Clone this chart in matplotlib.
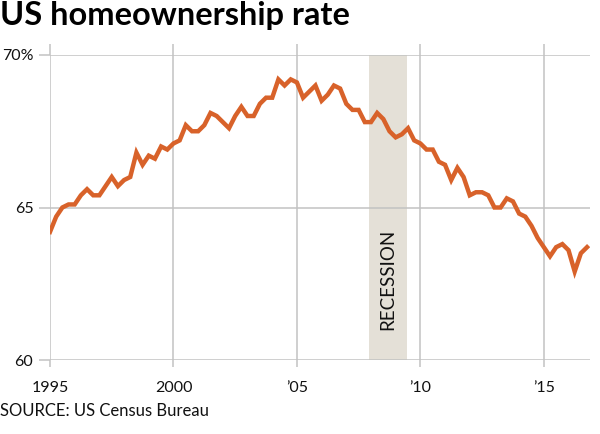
import numpy as np
import matplotlib.pyplot as plt

# Quarterly homeownership rate (%), 1995 Q1 - 2016 Q4
years = list(range(1995, 2017))
rate = [
    64.2, 64.7, 65.0, 65.1,   # 1995
    65.1, 65.4, 65.6, 65.4,   # 1996
    65.4, 65.7, 66.0, 65.7,   # 1997
    65.9, 66.0, 66.8, 66.4,   # 1998
    66.7, 66.6, 67.0, 66.9,   # 1999
    67.1, 67.2, 67.7, 67.5,   # 2000
    67.5, 67.7, 68.1, 68.0,   # 2001
    67.8, 67.6, 68.0, 68.3,   # 2002
    68.0, 68.0, 68.4, 68.6,   # 2003
    68.6, 69.2, 69.0, 69.2,   # 2004
    69.1, 68.6, 68.8, 69.0,   # 2005
    68.5, 68.7, 69.0, 68.9,   # 2006
    68.4, 68.2, 68.2, 67.8,   # 2007
    67.8, 68.1, 67.9, 67.5,   # 2008
    67.3, 67.4, 67.6, 67.2,   # 2009
    67.1, 66.9, 66.9, 66.5,   # 2010
    66.4, 65.9, 66.3, 66.0,   # 2011
    65.4, 65.5, 65.5, 65.4,   # 2012
    65.0, 65.0, 65.3, 65.2,   # 2013
    64.8, 64.7, 64.4, 64.0,   # 2014
    63.7, 63.4, 63.7, 63.8,   # 2015
    63.6, 62.9, 63.5, 63.7,   # 2016
]
t = [y + q / 4 for y in years for q in range(4)]

recession = (2007.92, 2009.45)
xticks = [1995, 2000, 2005, 2010, 2015]
xlabels = ['1995', '2000', '\u201905', '\u201910', '\u201915']
yticks = [60, 65, 70]
ylabels = ['60', '65', '70%']

plt.rcParams['font.family'] = ['Lato', 'DejaVu Sans']
grid_c = '#c2c2c2'

fig = plt.figure(figsize=(6, 4.34), dpi=100)
ax = fig.add_axes([50 / 600, 74 / 434, 540 / 600, 305 / 434])

ax.axvspan(recession[0], recession[1], color='#e4e0d7', zorder=1, lw=0)
ax.text(sum(recession) / 2, 62.65, 'RECESSION', rotation=90, ha='center',
        va='center', fontsize=13.5, color='#111111', zorder=2)

ax.plot(t, rate, color='#d8622a', lw=3.2, zorder=3, solid_joinstyle='miter')

ax.set_xlim(1995, 2016.87)
ax.set_ylim(60, 70)
ax.set_xticks(xticks)
ax.set_xticklabels(xlabels)
ax.set_yticks(yticks)
ax.set_yticklabels(ylabels)
ax.grid(True, color=grid_c, lw=1.1, zorder=0)
for s in ax.spines.values():
    s.set_visible(False)
ax.tick_params(axis='both', colors=grid_c, width=1.1, labelcolor='#111111',
               labelsize=11.5)
ax.tick_params(axis='x', length=5, pad=10, top=True, labeltop=False,
               direction='out')
ax.tick_params(axis='y', length=8, pad=4)
# vertical grid lines poke above the top line
for tk in ax.xaxis.get_major_ticks():
    tk.tick2line.set_markersize(8)

fig.text(0.0, 1 - 25 / 434, 'US homeownership rate', fontsize=23.4,
         fontweight='bold', ha='left', va='baseline', color='#000000')
fig.text(0.0, 18 / 434, 'SOURCE: US Census Bureau', fontsize=12,
         ha='left', va='baseline', color='#111111')

fig.savefig('out.png', dpi=100)
